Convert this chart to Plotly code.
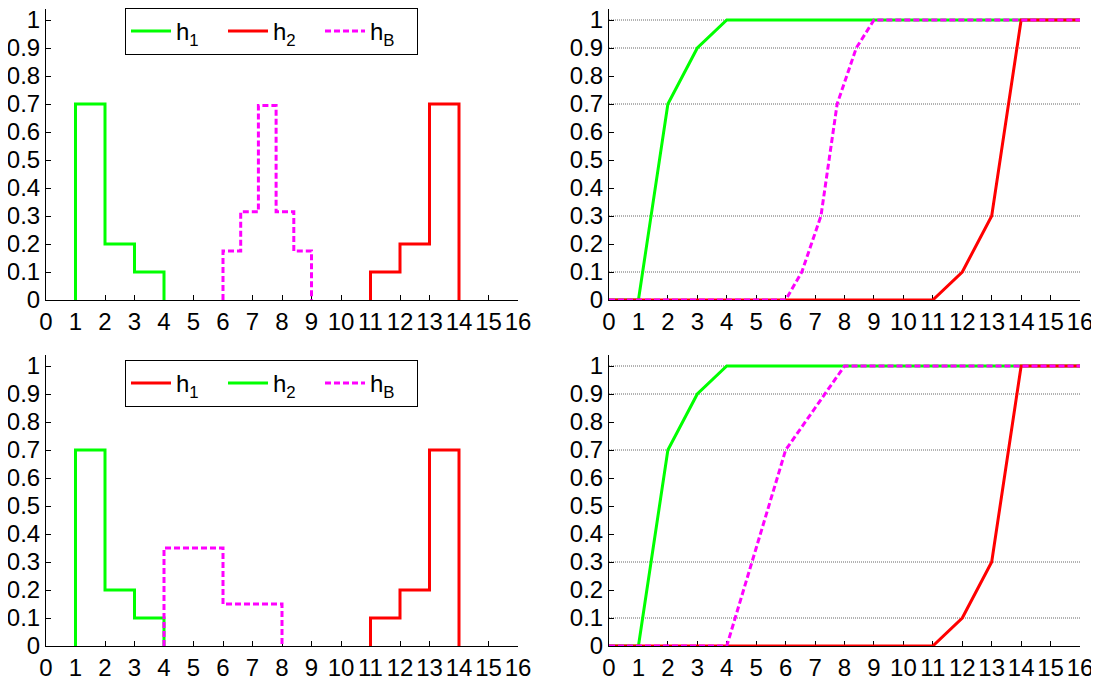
import plotly.graph_objects as go

# ---------------- data ----------------
x_ticks = list(range(17))
y_ticks = [0, 0.1, 0.2, 0.3, 0.4, 0.5, 0.6, 0.7, 0.8, 0.9, 1]
y_tick_text = ["0", "0.1", "0.2", "0.3", "0.4", "0.5", "0.6", "0.7", "0.8", "0.9", "1"]
grid_levels = [0.1, 0.3, 0.7, 0.9, 1.0]

# top-left histograms
top_h1_edges = [1, 2, 3, 4]
top_h1_vals = [0.7, 0.2, 0.1]
top_h2_edges = [11, 12, 13, 14]
top_h2_vals = [0.1, 0.2, 0.7]
top_hB_edges = [6, 6.6, 7.2, 7.8, 8.4, 9]
top_hB_vals = [0.175, 0.315, 0.695, 0.315, 0.175]

# top-right cumulative curves
cdf_x = list(range(17))
top_h1_cdf = [0, 0, 0.7, 0.9, 1, 1, 1, 1, 1, 1, 1, 1, 1, 1, 1, 1, 1]
top_h2_cdf = [0, 0, 0, 0, 0, 0, 0, 0, 0, 0, 0, 0, 0.1, 0.3, 1, 1, 1]
top_hB_cdf_x = [0, 6, 6.55, 7.2, 7.75, 8.4, 9, 16]
top_hB_cdf = [0, 0, 0.1, 0.3, 0.7, 0.9, 1, 1]

# bottom-left histograms
bot_h1_edges = [11, 12, 13, 14]
bot_h1_vals = [0.1, 0.2, 0.7]
bot_h2_edges = [1, 2, 3, 4]
bot_h2_vals = [0.7, 0.2, 0.1]
bot_hB_edges = [4, 6, 8]
bot_hB_vals = [0.35, 0.15]

# bottom-right cumulative curves
bot_h1_cdf = [0, 0, 0, 0, 0, 0, 0, 0, 0, 0, 0, 0, 0.1, 0.3, 1, 1, 1]
bot_h2_cdf = [0, 0, 0.7, 0.9, 1, 1, 1, 1, 1, 1, 1, 1, 1, 1, 1, 1, 1]
bot_hB_cdf = [0, 0, 0, 0, 0, 0.35, 0.7, 0.85, 1, 1, 1, 1, 1, 1, 1, 1, 1]

GREEN = "#00ff00"
RED = "#ff0000"
MAGENTA = "#ff00ff"
DASH = "6px,3px"
LW = 3


def steps(edges, vals):
    xs = [edges[0]]
    ys = [0]
    for i, v in enumerate(vals):
        xs += [edges[i], edges[i + 1]]
        ys += [v, v]
    xs.append(edges[-1])
    ys.append(0)
    return xs, ys


# page has an 8px body margin; size the figure to fit the window
OFF = 8
W, H = 1099 - OFF, 677 - OFF
fig = go.Figure()


def add_step(edges, vals, color, name, xa, ya, legend, dash=None):
    xs, ys = steps(edges, vals)
    fig.add_trace(go.Scatter(x=xs, y=ys, mode="lines", name=name,
                             line=dict(color=color, width=LW, dash=dash),
                             xaxis=xa, yaxis=ya, legend=legend, showlegend=True))


def add_line(xs, ys, color, xa, ya, dash=None):
    fig.add_trace(go.Scatter(x=xs, y=ys, mode="lines", showlegend=False,
                             line=dict(color=color, width=LW, dash=dash),
                             xaxis=xa, yaxis=ya))


# top-left
add_step(top_h1_edges, top_h1_vals, GREEN, "h<sub>1</sub>", "x", "y", "legend")
add_step(top_h2_edges, top_h2_vals, RED, "h<sub>2</sub>", "x", "y", "legend")
add_step(top_hB_edges, top_hB_vals, MAGENTA, "h<sub>B</sub>", "x", "y", "legend", DASH)
# top-right
add_line(cdf_x, top_h1_cdf, GREEN, "x2", "y2")
add_line(cdf_x, top_h2_cdf, RED, "x2", "y2")
add_line(top_hB_cdf_x, top_hB_cdf, MAGENTA, "x2", "y2", DASH)
# bottom-left
add_step(bot_h1_edges, bot_h1_vals, RED, "h<sub>1</sub>", "x3", "y3", "legend2")
add_step(bot_h2_edges, bot_h2_vals, GREEN, "h<sub>2</sub>", "x3", "y3", "legend2")
add_step(bot_hB_edges, bot_hB_vals, MAGENTA, "h<sub>B</sub>", "x3", "y3", "legend2", DASH)
# bottom-right
add_line(cdf_x, bot_h2_cdf, GREEN, "x4", "y4")
add_line(cdf_x, bot_h1_cdf, RED, "x4", "y4")
add_line(cdf_x, bot_hB_cdf, MAGENTA, "x4", "y4", DASH)

YTOP = 1.04
PX_PER_UNIT = 280
xl = [(46 - OFF) / W, (518 - OFF) / W]
xr = [(609 - OFF) / W, (1080 - OFF) / W]
t0 = 300 - OFF
b0 = 646 - OFF
yt = [1 - t0 / H, min(1, 1 - (t0 - YTOP * PX_PER_UNIT) / H)]
yb = [1 - b0 / H, 1 - (b0 - YTOP * PX_PER_UNIT) / H]

font = dict(family="Liberation Sans, Arial, sans-serif", size=24, color="black")


def xaxis(domain, anchor):
    return dict(domain=domain, anchor=anchor, range=[0, 16], tickvals=x_ticks,
                ticks="inside", ticklen=5, tickcolor="black", showline=True,
                linecolor="black", linewidth=1, showgrid=False, zeroline=False,
                tickfont=font, layer="below traces", automargin=False,
                ticklabeloverflow="allow")


def yaxis(domain, anchor):
    return dict(domain=domain, anchor=anchor, range=[0, YTOP], tickvals=y_ticks,
                ticktext=y_tick_text, ticks="inside", ticklen=5, tickcolor="black",
                showline=True, linecolor="black", linewidth=1, showgrid=False,
                zeroline=False, tickfont=font, layer="below traces", automargin=False,
                ticklabeloverflow="allow")


shapes = []
for xa, ya in [("x2", "y2"), ("x4", "y4")]:
    for lv in grid_levels:
        shapes.append(dict(type="line", xref=xa + " domain", yref=ya, x0=0, x1=1,
                           y0=lv, y1=lv, layer="below",
                           line=dict(color="#666666", width=1, dash="1px,1px")))

legend_common = dict(orientation="h", xanchor="left", yanchor="top",
                     bordercolor="black", borderwidth=1, bgcolor="white",
                     font=font, itemwidth=40, entrywidth=42)

fig.update_layout(
    width=W, height=H, margin=dict(l=0, r=0, t=0, b=0, autoexpand=False),
    plot_bgcolor="white", paper_bgcolor="white", font=font,
    xaxis=xaxis(xl, "y"), yaxis=yaxis(yt, "x"),
    xaxis2=xaxis(xr, "y2"), yaxis2=yaxis(yt, "x2"),
    xaxis3=xaxis(xl, "y3"), yaxis3=yaxis(yb, "x3"),
    xaxis4=xaxis(xr, "y4"), yaxis4=yaxis(yb, "x4"),
    legend=dict(x=(125 - OFF) / W, y=1, **legend_common),
    legend2=dict(x=(125 - OFF) / W, y=1 - (360 - OFF) / H, **legend_common),
    shapes=shapes,
)

fig.write_html("out.html")
